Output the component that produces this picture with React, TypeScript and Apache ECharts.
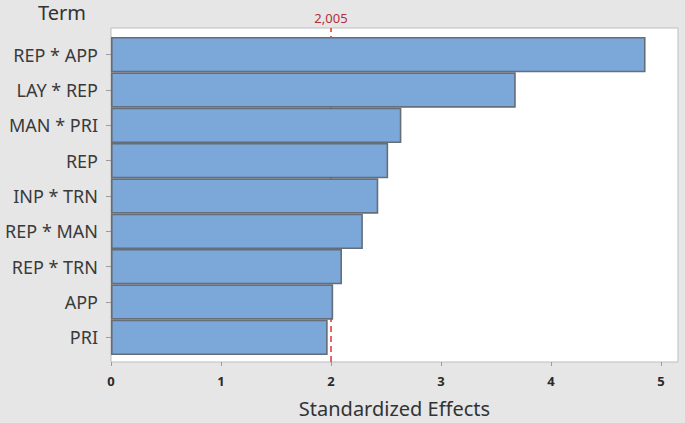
import React, { useEffect, useRef } from "react";
import * as echarts from "echarts";

const terms = ["REP * APP", "LAY * REP", "MAN * PRI", "REP", "INP * TRN", "REP * MAN", "REP * TRN", "APP", "PRI"];
const effects = [4.86, 3.68, 2.64, 2.52, 2.43, 2.29, 2.10, 2.02, 1.97];
const referenceValue = 2.005;
const referenceLabel = "2,005";
const xTicks = [0, 1, 2, 3, 4, 5];
const xMax = 5.155;

export default function App() {
  const ref = useRef<HTMLDivElement>(null);
  useEffect(() => {
    document.body.style.margin = "0";
    const chart = echarts.init(ref.current!, null, { renderer: "svg" });
    const font = "'Noto Sans', 'Open Sans', sans-serif";
    chart.setOption({
      animation: false,
      backgroundColor: "#e6e6e6",
      textStyle: { fontFamily: font },
      grid: [
        { left: 111, right: 7, top: 28, bottom: 57, show: true, backgroundColor: "#ffffff", borderColor: "#bdbdbd", borderWidth: 1, containLabel: false },
        { left: 111, right: 7, top: 37, bottom: 68, containLabel: false },
      ],
      xAxis: [
        {
          gridIndex: 0, type: "value", min: 0, max: xMax,
          axisLine: { show: false },
          axisTick: { show: true, length: 4, lineStyle: { color: "#9a9a9a" }, customValues: xTicks },
          axisLabel: { color: "#2a2a2a", fontSize: 13, fontWeight: "bold", margin: 12, customValues: xTicks, formatter: (v: number) => String(v) },
          splitLine: { show: false },
          name: "Standardized Effects", nameLocation: "middle", nameGap: 36,
          nameTextStyle: { fontSize: 20, color: "#333333" },
        },
        {
          gridIndex: 1, type: "value", min: 0, max: xMax,
          axisLine: { show: false }, axisTick: { show: false }, axisLabel: { show: false }, splitLine: { show: false },
        },
      ],
      yAxis: [
        { gridIndex: 0, type: "value", min: 0, max: 1, show: false },
        {
          gridIndex: 1, type: "category", data: terms, inverse: true,
          axisLine: { show: false },
          axisTick: { show: true, length: 5, lineStyle: { color: "#9a9a9a" }, alignWithLabel: true },
          axisLabel: { color: "#3a3a3a", fontSize: 18, margin: 13 },
        },
      ],
      graphic: [
        { type: "text", x: 38, y: 2, style: { text: "Term", fontSize: 20, fill: "#333333", fontFamily: font } },
      ],
      series: [
        {
          type: "line", xAxisIndex: 0, yAxisIndex: 0, data: [], z: 1,
          markLine: {
            silent: true, symbol: "none", z: 1,
            lineStyle: { color: "#d9343a", type: [6, 4], width: 1.5 },
            label: { show: true, position: "end", formatter: referenceLabel, color: "#b0303a", fontSize: 13, distance: 4, fontFamily: font },
            data: [{ xAxis: referenceValue }],
          },
        },
        {
          type: "bar", xAxisIndex: 1, yAxisIndex: 1, data: effects, z: 3,
          barCategoryGap: 0,
          itemStyle: { color: "#7ba7d9", borderColor: "#646d78", borderWidth: 1.6 },
        },
      ],
    });
    return () => chart.dispose();
  }, []);
  return <div ref={ref} style={{ position: "fixed", left: 0, top: 0, width: 685, height: 423 }} />;
}
